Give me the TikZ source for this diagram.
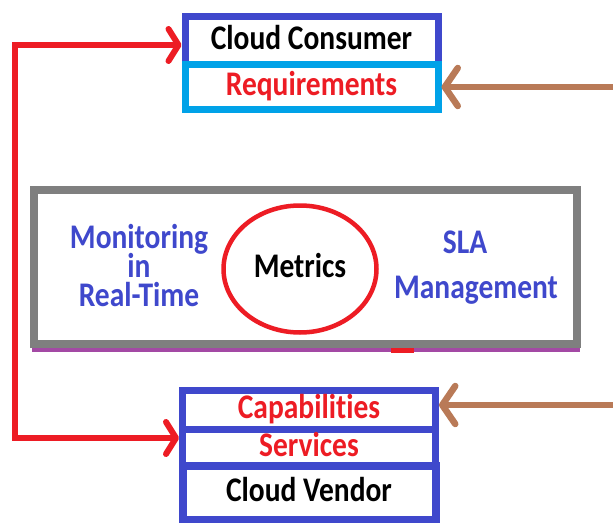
\documentclass[tikz,border=0pt]{standalone}
\usepackage{graphicx}
\usepackage{fontspec}
\setmainfont{Carlito}[Ligatures={NoCommon,NoRare,NoContextual}]
\usetikzlibrary{arrows.meta,shapes.geometric}
\definecolor{indigo}{HTML}{3F48CC}
\definecolor{pred}{HTML}{ED1C24}
\definecolor{turq}{HTML}{00A2E8}
\definecolor{pbrown}{HTML}{B97A57}
\definecolor{pgrey}{HTML}{7F7F7F}
\definecolor{ppurple}{HTML}{A349A4}
\newcommand{\vst}[1]{\scalebox{1}[1.17]{#1}}
\begin{document}
\setlength{\lineskiplimit}{-20pt}%
\begin{tikzpicture}[x=1pt,y=-1pt,
  lbl/.style={font=\fontsize{29.5}{29}\selectfont\bfseries},
  cell/.style={rectangle, draw=indigo, line width=7pt, minimum width=253pt,
    inner sep=0pt, text height=23.5pt, text depth=6pt, lbl},
  redarrow/.style={draw=pred, line width=6pt,
    {Straight Barb[length=10pt,width=32pt,round]}-{Straight Barb[length=10pt,width=32pt,round]}},
  brownarrow/.style={draw=pbrown, line width=6.5pt,
    -{Straight Barb[length=13pt,width=38pt,round]}}
]
\useasboundingbox (0,0) rectangle (613,522);
\fill[white] (0,0) rectangle (613,522);

% top box
\node[cell, minimum height=48pt] (cc) at (311.5,40.5) {\vst{Cloud Consumer}};
\node[cell, draw=turq, minimum height=44.5pt, text=pred] (req) at (311.5,86.75) {\vst{Requirements}};

% middle panel
\fill[ppurple] (32,347) rectangle (580,352);
\fill[pred] (391,347.5) rectangle (414,352.5);
\node[rectangle, draw=pgrey, line width=8pt, minimum width=543.5pt,
  minimum height=153.5pt, inner sep=0pt] (panel) at (305.25,266.75) {};
\node[ellipse, draw=pred, line width=4.5pt, minimum width=153pt,
  minimum height=127pt, inner sep=0pt, lbl, text height=23.5pt, text depth=6pt]
  (metrics) at (300,269) {\vst{Metrics}};
\node[lbl, text=indigo, align=center] (mon) at (139,266)
  {\vst{Monitoring}\\\vst{in}\\\vst{Real-Time}};
\node[lbl, text=indigo, align=center, font=\fontsize{29.5}{45}\selectfont\bfseries]
  (sla) at (476,267.5) {\hspace*{-22pt}\vst{SLA}\\\vst{Management}};

% bottom box
\node[cell, minimum height=38.5pt, text=pred] (cap) at (309,409.75) {\vst{Capabilit\kern0pt{}ies}};
\node[cell, minimum height=36.5pt, text=pred] (serv) at (309,447.25) {\vst{Services}};
\node[cell, line width=8pt, minimum height=54.5pt] (vend) at (309,492.75) {\vst{Cloud Vendor}};

% connectors
\coordinate (lt) at (15,45);
\coordinate (lb) at (15,438);
\coordinate (br1) at (613,87);
\coordinate (br2) at (613,405);
\draw[redarrow] (cc.west |- lt) -- (lt) -- (lb) -- (serv.west |- lb);
\draw[brownarrow] (br1) -- (br1 -| req.east);
\draw[brownarrow] (br2) -- (br2 -| cap.east);
\end{tikzpicture}
\end{document}
